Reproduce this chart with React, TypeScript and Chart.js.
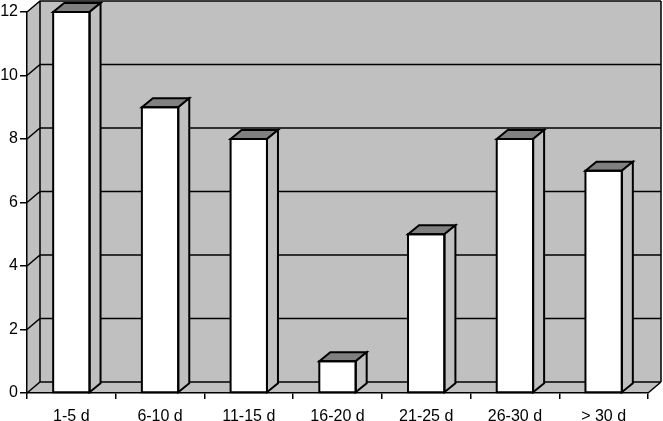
import React, { useEffect, useRef } from "react";
import { Chart, registerables } from "chart.js";

Chart.register(...registerables);

const categories = ["1-5 d", "6-10 d", "11-15 d", "16-20 d", "21-25 d", "26-30 d", "> 30 d"];
const counts = [12, 9, 8, 1, 5, 8, 7];
const yMin = 0;
const yMax = 12;
const yStep = 2;

const WALL = "#c0c0c0";
const TOP = "#808080";
const SIDE = "#c0c0c0";
const WALL_DX = 13;
const WALL_DY = -11;
const BAR_DX = 11;
const BAR_DY = -9;

const wallsPlugin = {
  id: "walls3d",
  beforeDraw(chart: any) {
    const { ctx, chartArea: a, scales } = chart;
    const y = scales.y;
    ctx.save();
    ctx.fillStyle = WALL;
    ctx.fillRect(a.left + WALL_DX, a.top + WALL_DY, a.right - a.left, a.bottom - a.top);
    ctx.beginPath();
    ctx.moveTo(a.left, a.top);
    ctx.lineTo(a.left + WALL_DX, a.top + WALL_DY);
    ctx.lineTo(a.left + WALL_DX, a.bottom + WALL_DY);
    ctx.lineTo(a.left, a.bottom);
    ctx.closePath();
    ctx.fill();
    ctx.beginPath();
    ctx.moveTo(a.left, a.bottom);
    ctx.lineTo(a.right, a.bottom);
    ctx.lineTo(a.right + WALL_DX, a.bottom + WALL_DY);
    ctx.lineTo(a.left + WALL_DX, a.bottom + WALL_DY);
    ctx.closePath();
    ctx.fill();

    ctx.strokeStyle = "#000";
    ctx.lineWidth = 1.5;
    ctx.beginPath();
    for (const t of y.ticks) {
      const yf = y.getPixelForValue(t.value);
      const yb = yf + WALL_DY;
      ctx.moveTo(a.left, yf);
      ctx.lineTo(a.left + WALL_DX, yb);
      ctx.lineTo(a.right + WALL_DX, yb);
    }
    ctx.moveTo(a.left + WALL_DX, a.top + WALL_DY);
    ctx.lineTo(a.left + WALL_DX, a.bottom + WALL_DY);
    ctx.moveTo(a.right + WALL_DX, a.top + WALL_DY);
    ctx.lineTo(a.right + WALL_DX, a.bottom + WALL_DY);
    ctx.moveTo(a.right, a.bottom);
    ctx.lineTo(a.right + WALL_DX, a.bottom + WALL_DY);
    ctx.stroke();
    ctx.restore();
  },
  afterDatasetsDraw(chart: any) {
    const { ctx } = chart;
    const meta = chart.getDatasetMeta(0);
    ctx.save();
    ctx.strokeStyle = "#000";
    ctx.lineWidth = 2;
    ctx.lineJoin = "miter";
    for (const el of meta.data) {
      const { x, y, base, width } = el.getProps(["x", "y", "base", "width"], true);
      const l = x - width / 2;
      const r = x + width / 2;
      ctx.beginPath();
      ctx.moveTo(l, y);
      ctx.lineTo(l + BAR_DX, y + BAR_DY);
      ctx.lineTo(r + BAR_DX, y + BAR_DY);
      ctx.lineTo(r, y);
      ctx.closePath();
      ctx.fillStyle = TOP;
      ctx.fill();
      ctx.stroke();
      ctx.beginPath();
      ctx.moveTo(r, y);
      ctx.lineTo(r + BAR_DX, y + BAR_DY);
      ctx.lineTo(r + BAR_DX, base + BAR_DY);
      ctx.lineTo(r, base);
      ctx.closePath();
      ctx.fillStyle = SIDE;
      ctx.fill();
      ctx.stroke();
      ctx.strokeRect(l, y, width, base - y);
    }
    ctx.restore();
  },
};

export default function App() {
  const ref = useRef<HTMLCanvasElement | null>(null);
  useEffect(() => {
    if (!ref.current) return;
    const font = { family: "'Liberation Sans', Arial, sans-serif", size: 16 };
    const chart = new Chart(ref.current, {
      type: "bar",
      data: {
        labels: categories,
        datasets: [
          {
            data: counts,
            backgroundColor: "#ffffff",
            borderColor: "#000000",
            borderWidth: 0,
            categoryPercentage: 1,
            barPercentage: 0.41,
          },
        ],
      },
      options: {
        responsive: false,
        animation: false,
        layout: { padding: { top: 12, right: 15, left: 0, bottom: 0 } },
        plugins: { legend: { display: false }, tooltip: { enabled: false } },
        scales: {
          x: {
            grid: {
              display: true,
              drawOnChartArea: false,
              drawTicks: true,
              tickLength: 6,
              color: "#000",
              lineWidth: 1.5,
            },
            border: { display: true, color: "#000", width: 1.5 },
            ticks: { color: "#000", font, padding: 8, maxRotation: 0, autoSkip: false },
            afterFit: (s: any) => {
              s.height = 28;
            },
          },
          y: {
            min: yMin,
            max: yMax,
            grid: {
              display: true,
              drawOnChartArea: false,
              drawTicks: true,
              tickLength: 7,
              color: "#000",
              lineWidth: 1.5,
            },
            border: { display: true, color: "#000", width: 1.5 },
            ticks: { stepSize: yStep, color: "#000", font, padding: 2 },
            afterFit: (s: any) => {
              s.width = 27;
            },
          },
        },
      },
      plugins: [wallsPlugin],
    });
    return () => chart.destroy();
  }, []);
  return (
    <div style={{ position: "absolute", left: 0, top: 0, width: 663, height: 421, background: "#fff" }}>
      <canvas ref={ref} width={663} height={421} />
    </div>
  );
}
